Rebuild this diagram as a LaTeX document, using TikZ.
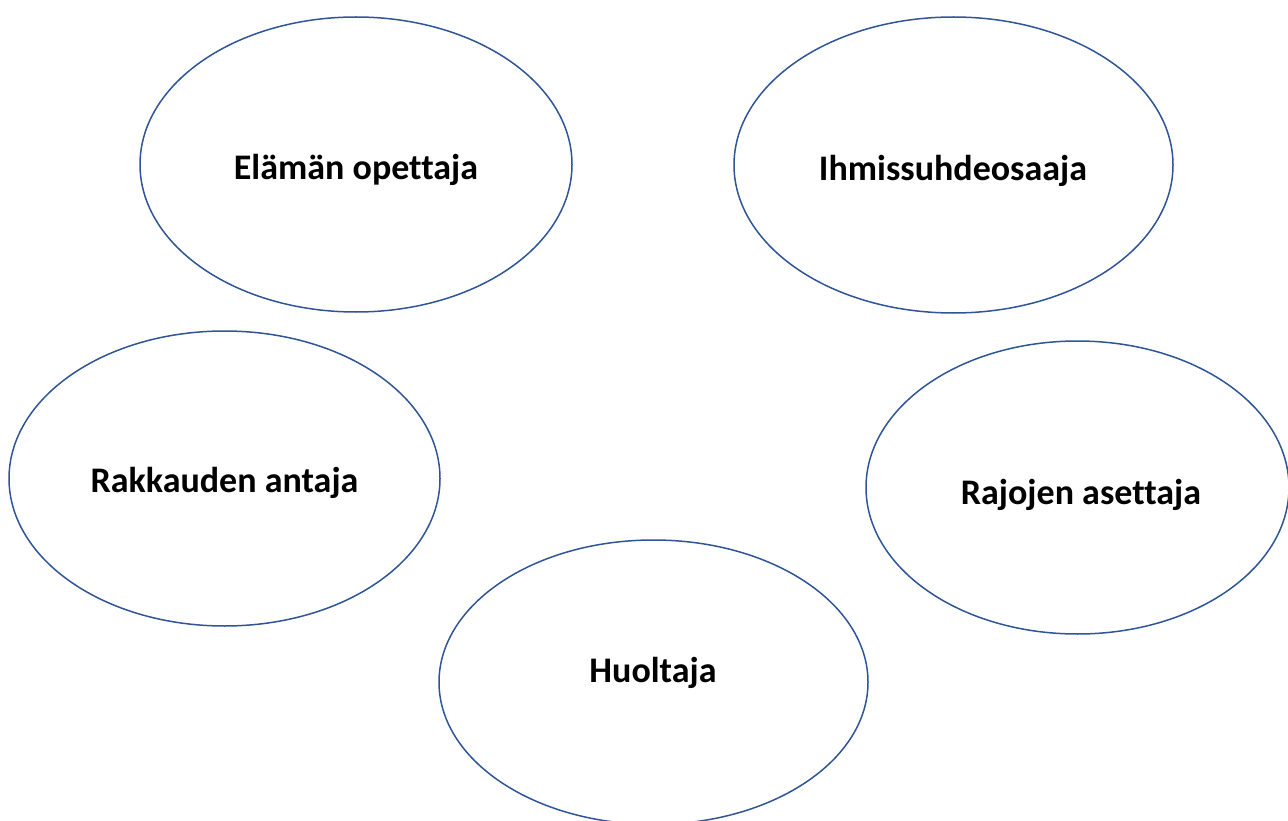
\documentclass[tikz,border=0pt]{standalone}
\usepackage{fontspec}
\setmainfont{Carlito}[Ligatures={NoCommon}]
\usetikzlibrary{shapes.geometric}
\definecolor{ellblue}{HTML}{2F5597}
\tikzset{
  oval/.style={ellipse, draw=ellblue, line width=1.5pt, inner sep=0pt},
  lbl/.style={font=\fontsize{36}{42}\selectfont\bfseries, text=black, inner sep=0pt}
}
\begin{document}
\begin{tikzpicture}[x=1pt,y=-1pt]
\useasboundingbox (0,0) rectangle (1288,821);
\clip (0,0) rectangle (1288,821);
\node[oval, minimum width=432pt, minimum height=295pt] (e1) at (356,164.5) {};
\node[oval, minimum width=439pt, minimum height=296pt] (e2) at (953.5,165) {};
\node[oval, minimum width=431pt, minimum height=295pt] (e3) at (224.5,478.5) {};
\node[oval, minimum width=423pt, minimum height=293pt] (e4) at (1077.5,487.5) {};
\node[oval, minimum width=429pt, minimum height=284.4pt] (e5) at (653.5,682.2) {};
\node[lbl] (t1) at (356,170) {Elämän opettaja};
\node[lbl] (t2) at (953,171) {Ihmissuhdeosaaja};
\node[lbl] (t3) at (224.5,482.5) {Rakkauden antaja};
\node[lbl] (t4) at (1081,494.5) {Rajojen asettaja};
\node[lbl] (t5) at (653,673) {Huoltaja};
\end{tikzpicture}
\end{document}
